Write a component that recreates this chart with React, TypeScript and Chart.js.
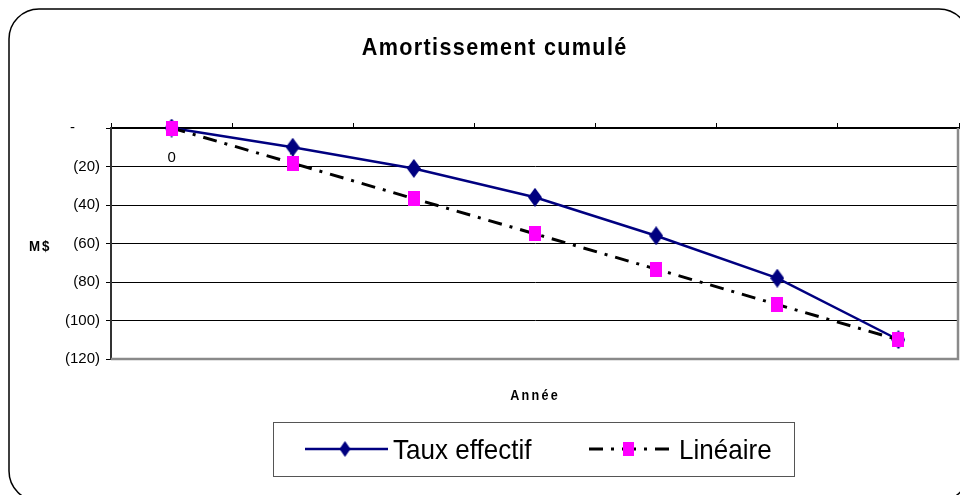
import React, { useEffect, useRef } from 'react';
import { Chart, registerables } from 'chart.js';

Chart.register(...registerables);

// ---- Data ----
const categories = ['0', '1', '2', '3', '4', '5', '6'];
const tauxEffectif = [0, -10, -21, -36, -56, -78, -110];
const lineaire = [0, -18.3, -36.7, -55, -73.3, -91.7, -110];
const visibleCategoryLabels = ['0', '1'];
const yMin = -120;
const yMax = 0;
const yStep = 20;
const chartTitle = 'Amortissement cumulé';
const yTitle = 'M$';
const xTitle = 'Année';
const seriesNames = ['Taux effectif', 'Linéaire'];

const NAVY = '#000080';
const MAGENTA = '#FF00FF';

function makeDiamond(w: number, h: number, color: string) {
  const c = document.createElement('canvas');
  c.width = w;
  c.height = h;
  const ctx = c.getContext('2d')!;
  ctx.fillStyle = color;
  ctx.beginPath();
  ctx.moveTo(w / 2, 0);
  ctx.lineTo(w, h / 2);
  ctx.lineTo(w / 2, h);
  ctx.lineTo(0, h / 2);
  ctx.closePath();
  ctx.fill();
  return c;
}

function makeRect(w: number, h: number, color: string) {
  const c = document.createElement('canvas');
  c.width = w;
  c.height = h;
  const ctx = c.getContext('2d')!;
  ctx.fillStyle = color;
  ctx.fillRect(0, 0, w, h);
  return c;
}

function drawText(
  ctx: CanvasRenderingContext2D,
  text: string,
  x: number,
  y: number,
  font: string,
  sx: number,
  spacing: number,
  align: 'left' | 'center' | 'right'
) {
  ctx.save();
  ctx.font = font;
  (ctx as any).letterSpacing = spacing + 'px';
  ctx.textAlign = 'left';
  ctx.textBaseline = 'alphabetic';
  ctx.fillStyle = '#000';
  const w = (ctx.measureText(text).width - spacing) * sx;
  let start = x;
  if (align === 'center') start = x - w / 2;
  else if (align === 'right') start = x - w;
  ctx.translate(start, y);
  ctx.scale(sx, 1);
  ctx.fillText(text, 0, 0);
  ctx.restore();
}

export default function App() {
  const ref = useRef<HTMLCanvasElement>(null);

  useEffect(() => {
    document.body.style.margin = '0';
    const canvas = ref.current!;
    const diamond = makeDiamond(14, 19, NAVY);
    const square = makeRect(12, 15, MAGENTA);
    const legendDiamond = makeDiamond(11, 16, NAVY);
    const legendSquare = makeRect(11, 14, MAGENTA);

    const decorations = {
      id: 'decorations',
      beforeDatasetsDraw(chart: any) {
        const { ctx, chartArea } = chart;
        const xs = chart.scales.x;
        ctx.save();
        ctx.strokeStyle = '#8a8a8a';
        ctx.lineWidth = 2.5;
        ctx.beginPath();
        ctx.moveTo(chartArea.left, chartArea.bottom);
        ctx.lineTo(chartArea.right - 1, chartArea.bottom);
        ctx.lineTo(chartArea.right - 1, chartArea.top);
        ctx.stroke();
        ctx.restore();
        ctx.save();
        ctx.font = '15px "Liberation Sans", Arial, sans-serif';
        ctx.fillStyle = '#000';
        ctx.textAlign = 'center';
        ctx.textBaseline = 'middle';
        visibleCategoryLabels.forEach((lab) => {
          const i = categories.indexOf(lab);
          const x = xs.getPixelForValue(i);
          ctx.fillText(lab, x, chartArea.top + 30);
        });
        ctx.restore();
      },
      afterDraw(chart: any) {
        const { ctx } = chart;
        ctx.save();
        ctx.strokeStyle = '#000';
        ctx.lineWidth = 1.5;
        const fx = 9, fy = 9, fw = 960, fh = 492, r = 30;
        ctx.beginPath();
        ctx.moveTo(fx + r, fy);
        ctx.lineTo(fx + fw - r, fy);
        ctx.arcTo(fx + fw, fy, fx + fw, fy + r, r);
        ctx.lineTo(fx + fw, fy + fh - r);
        ctx.arcTo(fx + fw, fy + fh, fx + fw - r, fy + fh, r);
        ctx.lineTo(fx + r, fy + fh);
        ctx.arcTo(fx, fy + fh, fx, fy + fh - r, r);
        ctx.lineTo(fx, fy + r);
        ctx.arcTo(fx, fy, fx + r, fy, r);
        ctx.stroke();
        ctx.restore();

        drawText(ctx, chartTitle, 494, 55, 'bold 24px "Liberation Sans", Arial, sans-serif', 0.9, 1.5, 'center');
        drawText(ctx, yTitle, 29, 251, 'bold 14px "Liberation Sans", Arial, sans-serif', 0.95, 2, 'left');
        drawText(ctx, xTitle, 534, 400, 'bold 14px "Liberation Sans", Arial, sans-serif', 0.9, 2.5, 'center');

        const ds = chart.data.datasets;
        ctx.save();
        ctx.fillStyle = '#fff';
        ctx.fillRect(273.5, 422.5, 521, 54);
        ctx.strokeStyle = '#555';
        ctx.lineWidth = 1;
        ctx.strokeRect(273.5, 422.5, 521, 54);
        const ly = 449;
        const d1 = ds.find((d: any) => d.label === seriesNames[0]);
        ctx.strokeStyle = d1.borderColor;
        ctx.lineWidth = d1.borderWidth;
        ctx.setLineDash(d1.borderDash || []);
        ctx.beginPath();
        ctx.moveTo(305, ly);
        ctx.lineTo(388, ly);
        ctx.stroke();
        ctx.drawImage(legendDiamond, 345 - legendDiamond.width / 2, ly - legendDiamond.height / 2);
        const d2 = ds.find((d: any) => d.label === seriesNames[1]);
        ctx.strokeStyle = d2.borderColor;
        ctx.lineWidth = d2.borderWidth;
        ctx.setLineDash(d2.borderDash || []);
        ctx.beginPath();
        ctx.moveTo(589, ly);
        ctx.lineTo(672, ly);
        ctx.stroke();
        ctx.setLineDash([]);
        ctx.drawImage(legendSquare, 628 - legendSquare.width / 2, ly - legendSquare.height / 2);
        ctx.restore();
        drawText(ctx, seriesNames[0], 393, 459, '28px "Liberation Sans", Arial, sans-serif', 0.93, 0, 'left');
        drawText(ctx, seriesNames[1], 679, 459, '28px "Liberation Sans", Arial, sans-serif', 0.93, 0, 'left');
      },
    };

    const chart = new Chart(canvas, {
      type: 'line',
      data: {
        labels: categories,
        datasets: [
          {
            label: seriesNames[1],
            data: lineaire,
            borderColor: '#000',
            borderWidth: 3,
            borderDash: [14, 8, 3, 8],
            pointStyle: square as any,
            pointRadius: 8,
            pointHoverRadius: 8,
            tension: 0,
            fill: false,
            clip: false as any,
            order: 0,
          },
          {
            label: seriesNames[0],
            data: tauxEffectif,
            borderColor: NAVY,
            borderWidth: 2.5,
            pointStyle: diamond as any,
            pointRadius: 8,
            pointHoverRadius: 8,
            tension: 0,
            fill: false,
            clip: false as any,
            order: 1,
          },
        ],
      },
      options: {
        responsive: false,
        animation: false,
        events: [],
        layout: { autoPadding: false, padding: { top: 123, left: 0, right: 1, bottom: 136 } },
        plugins: {
          legend: { display: false },
          title: { display: false },
          tooltip: { enabled: false },
        },
        scales: {
          x: {
            type: 'category',
            position: 'top',
            offset: true,
            afterFit: (s: any) => {
              s.height = 5;
              s.paddingLeft = 0;
              s.paddingRight = 0;
            },
            grid: {
              offset: true,
              drawOnChartArea: false,
              drawTicks: true,
              tickLength: 5,
              color: '#000',
              lineWidth: 1,
            },
            border: { display: true, color: '#000', width: 2 },
            ticks: { display: false },
          },
          y: {
            type: 'linear',
            min: yMin,
            max: yMax,
            afterFit: (s: any) => {
              s.width = 111;
              s.paddingTop = 0;
              s.paddingBottom = 0;
            },
            ticks: {
              stepSize: yStep,
              color: '#000',
              padding: 6,
              font: { family: '"Liberation Sans", Arial, sans-serif', size: 15 },
              callback: (v: any) => (Number(v) === 0 ? '-      ' : '(' + Math.abs(Number(v)) + ')'),
            },
            grid: { color: '#000', lineWidth: 1, tickLength: 5, drawTicks: true },
            border: { display: true, color: '#333', width: 2 },
          },
        },
      },
      plugins: [decorations],
    });

    return () => chart.destroy();
  }, []);

  return (
    <div style={{ width: 960, height: 495, background: '#fff' }}>
      <canvas ref={ref} width={960} height={495} style={{ display: 'block' }} />
    </div>
  );
}
